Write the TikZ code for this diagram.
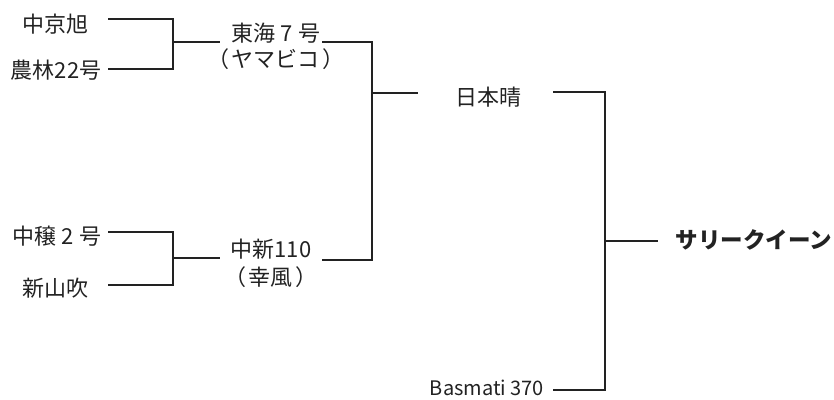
\documentclass[tikz,border=0pt]{standalone}
\usepackage{fontspec}
\setmainfont{Noto Sans CJK JP}
\definecolor{ink}{HTML}{222222}
\begin{document}
\begin{tikzpicture}[x=1pt,y=1pt,
  lbl/.style={inner sep=0pt,text=ink,font=\fontsize{22}{26}\selectfont,align=center},
  conn/.style={draw=ink,line width=1.2pt}]
\useasboundingbox (0,0) rectangle (834,399);
% leaves
\node[lbl] (nakakyo) at (55,375) {中京旭};
\node[lbl] (norin) at (56,329) {農林22号};
\node[lbl] (nakajo) at (57,163) {中穣 2 号};
\node[lbl] (shinyama) at (55,111) {新山吹};
\node[lbl,font=\fontsize{20}{24}\selectfont] (basmati) at (487,11) {Basmati 370};
% intermediates
\node[lbl] (tokai) at (276,353) {東海 7 号\\（\hspace{3pt}ヤマビコ\hspace{3pt}）};
\node[lbl,font=\fontsize{22}{28}\selectfont] (chushin) at (271,136) {中新110\\（\hspace{3pt}幸風\hspace{3pt}）};
\node[lbl] (nihon) at (488,302) {日本晴};
\node[lbl,font=\fontsize{22.5}{27}\selectfont\bfseries] (surry) at (754,159) {サリークイーン};
% line ends
\coordinate (nakakyoE) at (108,380);
\coordinate (norinE) at (108,330);
\coordinate (nakajoE) at (108,167);
\coordinate (shinyamaE) at (108,114);
\coordinate (basmatiE) at (553,9);
\coordinate (tokaiW) at (220,357);
\coordinate (tokaiE) at (322,357);
\coordinate (chushinW) at (220,141);
\coordinate (chushinE) at (322,139);
\coordinate (nihonW) at (418,306);
\coordinate (nihonE) at (553,307);
\coordinate (surryW) at (658,158);
% junctions
\coordinate (j1) at (173,357);
\coordinate (j2) at (173,141);
\coordinate (j3) at (372,306);
\coordinate (j4) at (605,158);
% connectors
\draw[conn] (nakakyoE) -| (j1) |- (norinE);
\draw[conn] (j1) -- (tokaiW);
\draw[conn] (nakajoE) -| (j2) |- (shinyamaE);
\draw[conn] (j2) -- (chushinW);
\draw[conn] (tokaiE) -| (j3) |- (chushinE);
\draw[conn] (j3) -- (nihonW);
\draw[conn] (nihonE) -| (j4) |- (basmatiE);
\draw[conn] (j4) -- (surryW);
\end{tikzpicture}
\end{document}
